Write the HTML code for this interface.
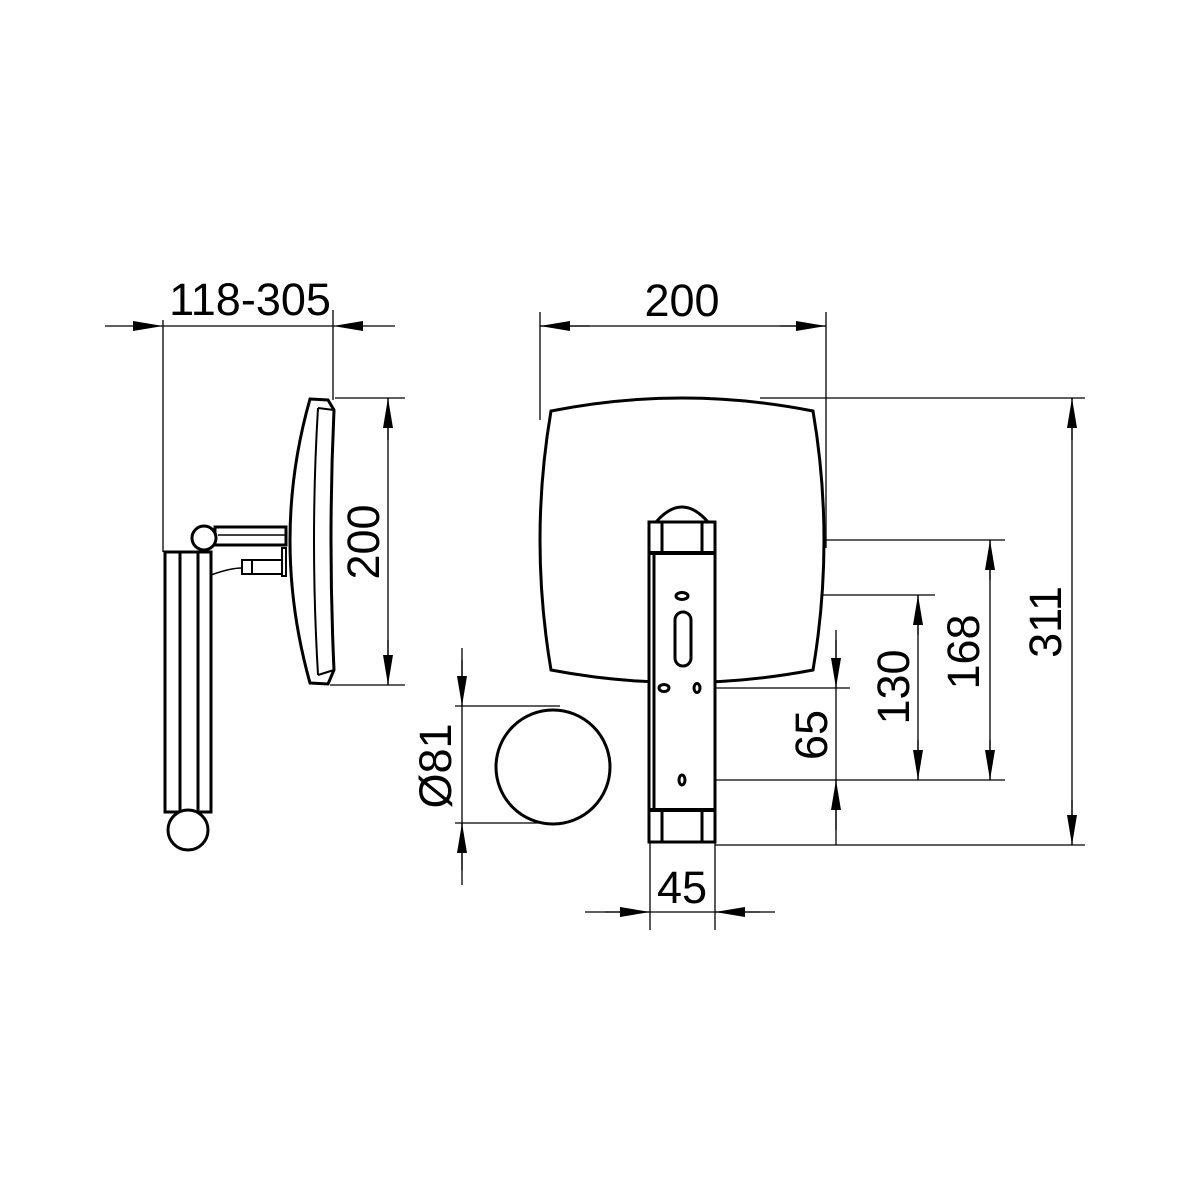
<!DOCTYPE html>
<html><head><style>body{margin:0;background:#fff}svg{display:block}text{font-family:"Liberation Sans",sans-serif;font-size:45px;fill:#000}</style></head>
<body>
<svg width="1200" height="1200" viewBox="0 0 1200 1200" xmlns="http://www.w3.org/2000/svg">
<defs>
<marker id="a" viewBox="0 0 30 10" refX="30" refY="5" markerWidth="30" markerHeight="10" markerUnits="userSpaceOnUse" orient="auto"><path d="M0,0L30,5L0,10z" fill="#000"/></marker>
</defs>
<g stroke="#000" stroke-width="1.3" fill="none">
<line x1="163" y1="320" x2="163" y2="552"/>
<line x1="333" y1="310" x2="333" y2="400"/>
<line x1="105" y1="326" x2="163" y2="326" marker-end="url(#a)"/>
<line x1="395" y1="326" x2="333" y2="326" marker-end="url(#a)"/>
<line x1="163" y1="326" x2="333" y2="326"/>
<line x1="335" y1="398" x2="405" y2="398"/>
<line x1="330" y1="685" x2="405" y2="685"/>
<line x1="388" y1="398" x2="388" y2="685"/>
<line x1="388" y1="440" x2="388" y2="398" marker-end="url(#a)"/>
<line x1="388" y1="640" x2="388" y2="685" marker-end="url(#a)"/>
<line x1="540" y1="312" x2="540" y2="420"/>
<line x1="826" y1="312" x2="826" y2="548"/>
<line x1="540" y1="326" x2="826" y2="326"/>
<line x1="590" y1="326" x2="540" y2="326" marker-end="url(#a)"/>
<line x1="780" y1="326" x2="826" y2="326" marker-end="url(#a)"/>
<line x1="760" y1="398" x2="1085" y2="398"/>
<line x1="715" y1="845" x2="1085" y2="845"/>
<line x1="1072" y1="398" x2="1072" y2="845"/>
<line x1="1072" y1="440" x2="1072" y2="398" marker-end="url(#a)"/>
<line x1="1072" y1="800" x2="1072" y2="845" marker-end="url(#a)"/>
<line x1="826" y1="540" x2="1005" y2="540"/>
<line x1="685" y1="780" x2="1005" y2="780"/>
<line x1="990" y1="540" x2="990" y2="780"/>
<line x1="990" y1="580" x2="990" y2="540" marker-end="url(#a)"/>
<line x1="990" y1="740" x2="990" y2="780" marker-end="url(#a)"/>
<line x1="690" y1="595" x2="935" y2="595"/>
<line x1="918" y1="595" x2="918" y2="780"/>
<line x1="918" y1="635" x2="918" y2="595" marker-end="url(#a)"/>
<line x1="918" y1="740" x2="918" y2="780" marker-end="url(#a)"/>
<line x1="700" y1="688" x2="850" y2="688"/>
<line x1="836" y1="630" x2="836" y2="845"/>
<line x1="836" y1="640" x2="836" y2="688" marker-end="url(#a)"/>
<line x1="836" y1="830" x2="836" y2="780" marker-end="url(#a)"/>
<line x1="455" y1="706" x2="560" y2="706"/>
<line x1="455" y1="823" x2="560" y2="823"/>
<line x1="462" y1="648" x2="462" y2="885"/>
<line x1="462" y1="660" x2="462" y2="706" marker-end="url(#a)"/>
<line x1="462" y1="870" x2="462" y2="823" marker-end="url(#a)"/>
<line x1="650" y1="842" x2="650" y2="930"/>
<line x1="715" y1="842" x2="715" y2="930"/>
<line x1="585" y1="912" x2="775" y2="912"/>
<line x1="605" y1="912" x2="650" y2="912" marker-end="url(#a)"/>
<line x1="760" y1="912" x2="715" y2="912" marker-end="url(#a)"/>
</g>
<g stroke="#000" stroke-width="3" fill="#fff">
<path d="M551,411 Q682,385 813,411 Q835,540 813,670 Q682,695 551,670 Q529,540 551,411Z"/>
<circle cx="553" cy="767" r="57"/>
<path d="M656,522 Q682,492 708,522"/>
<rect x="649" y="522" width="66" height="320"/>
<line x1="649" y1="553" x2="715" y2="553" stroke-width="4"/>
<line x1="649" y1="810" x2="715" y2="810" stroke-width="4"/>
<line x1="662" y1="522" x2="662" y2="553"/><line x1="702" y1="522" x2="702" y2="553"/>
<line x1="662" y1="810" x2="662" y2="842"/><line x1="702" y1="810" x2="702" y2="842"/>
<line x1="654" y1="553" x2="654" y2="810"/>
<rect x="675" y="612" width="16" height="54" rx="8"/>
<ellipse cx="682" cy="596" rx="6" ry="3.5"/>
<ellipse cx="664" cy="688" rx="5" ry="3.5"/>
<ellipse cx="697" cy="688" rx="3" ry="4.5"/>
<ellipse cx="682" cy="780" rx="3" ry="5"/>
<path d="M310,399 L328,400 L334,410 Q328,540 334,670 L328,684 L310,683 Q270,540 310,399Z"/>
<path d="M318,408 Q310,540 318,675" fill="none" stroke-width="2"/>
<line x1="318" y1="408" x2="334" y2="410" stroke-width="2"/>
<line x1="318" y1="675" x2="334" y2="670" stroke-width="2"/>
<rect x="215" y="527" width="71" height="18"/>
<line x1="218" y1="535" x2="286" y2="535" stroke-width="1.5"/>
<rect x="165" y="552" width="46" height="260"/>
<line x1="180" y1="552" x2="180" y2="812"/>
<line x1="198" y1="552" x2="198" y2="812"/>
<circle cx="204" cy="538" r="12"/>
<circle cx="188" cy="830" r="20"/>
<path d="M211,575 Q230,568 242,568" fill="none" stroke-width="1.5"/>
<rect x="242" y="560" width="40" height="14" stroke-width="2"/>
<line x1="252" y1="560" x2="252" y2="574" stroke-width="2"/>
<rect x="282" y="548" width="4" height="28" stroke-width="2"/>
</g>
<text x="250" y="315" text-anchor="middle">118-305</text>
<text x="682" y="316" text-anchor="middle">200</text>
<text x="682" y="903" text-anchor="middle">45</text>
<text transform="translate(379,542) rotate(-90)" text-anchor="middle">200</text>
<text transform="translate(1061,622) rotate(-90)" text-anchor="middle">311</text>
<text transform="translate(979,652) rotate(-90)" text-anchor="middle">168</text>
<text transform="translate(909,687) rotate(-90)" text-anchor="middle">130</text>
<text transform="translate(827,735) rotate(-90)" text-anchor="middle">65</text>
<text transform="translate(451,766) rotate(-90)" text-anchor="middle">Ø81</text>
</svg>
</body></html>
